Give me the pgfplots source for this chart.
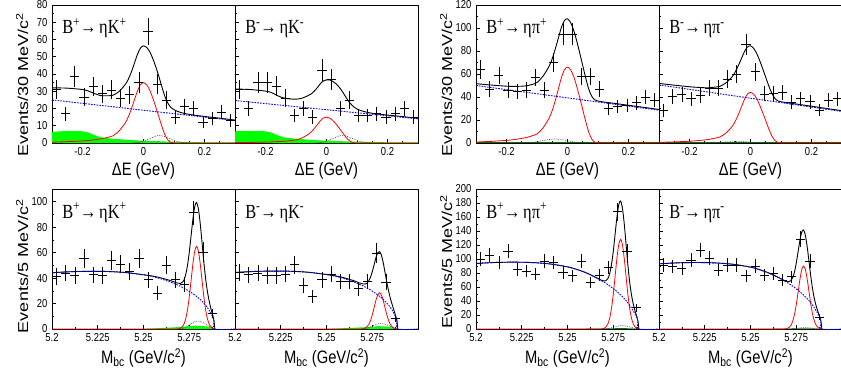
\documentclass[border=0pt]{standalone}
\usepackage{fontspec}
\setmainfont{Liberation Sans}
\newfontfamily\serifB{Liberation Serif}
\usepackage{graphicx}
\usepackage{pgfplots}
\usepackage{pgfplotstable}
\pgfplotsset{compat=1.18}
\newcommand{\sq}[1]{\scalebox{0.82}[1]{#1}}
\newcommand{\sqv}[1]{\scalebox{1}[0.8]{#1}}

% ---------------- Delta E panels: fit curves (x, total, signal)
\pgfplotstableread{
x tot sig
-0.3 32.0 0.46
-0.25 31.8 0.77
-0.2 31.0 1.2
-0.18 30.1 1.5
-0.16 28.6 1.9
-0.14 27.5 2.4
-0.12 27.4 3.15
-0.1 27.7 4.2
-0.08 29.9 7.0
-0.06 33.9 11.6
-0.05 36.9 15.1
-0.04 41.1 19.6
-0.03 46.1 24.9
-0.02 51.3 30.1
-0.01 55.0 33.8
0 56.3 35
0.01 55.5 33.8
0.02 53.1 30.8
0.03 49.2 26.3
0.04 44.3 21.0
0.05 38.8 15.4
0.06 32.8 9.8
0.07 27.1 4.9
0.08 23.1 1.75
0.09 20.6 0.35
0.1 19.3 0.07
0.12 17.8 0
0.15 16.6 0
0.2 15.4 0
0.25 14.4 0
0.3 13.3 0
}\fA
\pgfplotstableread{
x tot sig
-0.3 31.3 0.2
-0.25 31.0 0.33
-0.2 30.1 0.53
-0.18 29.2 0.65
-0.16 27.4 0.8
-0.14 26.1 1.0
-0.12 25.6 1.35
-0.1 25.4 1.8
-0.08 26.0 3.0
-0.06 27.5 5.0
-0.05 28.5 6.45
-0.04 30.1 8.4
-0.03 32.1 10.65
-0.02 34.4 12.9
-0.01 36.0 14.5
0 36.6 15
0.01 36.6 14.5
0.02 35.8 13.2
0.03 34.5 11.25
0.04 32.7 9.0
0.05 30.4 6.6
0.06 27.6 4.2
0.07 24.8 2.1
0.08 22.6 0.75
0.09 20.9 0.15
0.1 19.7 0.03
0.12 18.4 0
0.15 17.2 0
0.2 16.2 0
0.25 15.3 0
0.3 14.3 0
}\fB
\pgfplotstableread{
x tot sig
-0.3 51.6 0.86
-0.25 50.4 1.45
-0.2 49.4 2.3
-0.18 49.2 2.8
-0.16 49.3 3.6
-0.14 49.6 4.5
-0.12 50.6 5.9
-0.1 52.6 7.9
-0.08 58.2 13.2
-0.06 66.9 21.8
-0.05 73.4 28.4
-0.04 81.9 37.0
-0.03 91.2 46.9
-0.02 100.5 56.8
-0.01 106.5 63.7
0 108.0 66
0.01 104.8 63.7
0.02 98.3 58.1
0.03 89.0 49.5
0.04 78.4 39.6
0.05 67.3 29.0
0.06 56.3 18.5
0.07 46.6 9.2
0.08 40.4 3.3
0.09 37.4 0.66
0.1 36.5 0.13
0.12 35.6 0
0.15 34.6 0
0.2 32.8 0
0.25 31.0 0
0.3 29.2 0
}\fC
\pgfplotstableread{
x tot sig
-0.3 51.8 0.57
-0.25 50.3 0.97
-0.2 48.9 1.54
-0.18 48.5 1.9
-0.16 48.2 2.4
-0.14 48.0 3.0
-0.12 48.5 4.0
-0.1 49.3 5.3
-0.08 52.4 8.8
-0.06 57.7 14.5
-0.05 61.8 18.9
-0.04 67.2 24.6
-0.03 73.3 31.2
-0.02 79.4 37.8
-0.01 83.5 42.5
0 84.5 44
0.01 82.4 42.5
0.02 78.0 38.7
0.03 71.8 33.0
0.04 64.6 26.4
0.05 57.1 19.4
0.06 49.6 12.3
0.07 43.2 6.2
0.08 38.8 2.2
0.09 36.6 0.44
0.1 35.9 0.09
0.12 35.0 0
0.15 33.9 0
0.2 32.0 0
0.25 30.0 0
0.3 28.1 0
}\fD

% ---------------- Mbc panels: fit curves (x, total, signal)
\pgfplotstableread{
x tot sig
5.2 44.2 0
5.21 45.0 0
5.22 45.3 0
5.23 45.2 0
5.24 44.4 0
5.25 42.6 0
5.255 41.6 0
5.26 40.0 0
5.265 37.9 0
5.268 36.3 0.03
5.269 36.0 0.17
5.270 35.8 0.52
5.271 36.4 1.43
5.272 38.1 3.5
5.273 42.4 7.7
5.274 49.5 14.7
5.275 60.2 25.1
5.276 73.2 38.1
5.277 86.3 51.2
5.278 96.2 61.2
5.279 99.4 65
5.280 94.4 61.2
5.281 82.8 51.2
5.282 67.7 38.1
5.283 52.2 25.1
5.284 39.1 14.7
5.285 28.8 7.7
5.286 21.3 3.5
5.287 15.1 1.43
5.288 9.9 0.52
5.2885 6.6 0.3
5.289 0.2 0.17
}\fE
\pgfplotstableread{
x tot sig
5.2 44.4 0
5.21 45.2 0
5.22 45.5 0
5.23 45.4 0
5.24 44.6 0
5.25 42.8 0
5.255 41.7 0
5.26 40.1 0
5.265 37.9 0
5.268 36.2 0.01
5.269 35.9 0.07
5.270 35.4 0.23
5.271 35.3 0.63
5.272 35.8 1.54
5.273 37.6 3.36
5.274 40.5 6.44
5.275 45.0 11.0
5.276 50.4 16.7
5.277 55.9 22.5
5.278 59.9 26.8
5.279 60.8 28.5
5.280 58.0 26.8
5.281 52.1 22.5
5.282 44.4 16.7
5.283 36.5 11.0
5.284 29.5 6.44
5.285 23.5 3.36
5.286 18.7 1.54
5.287 14.0 0.63
5.288 9.4 0.23
5.2885 6.3 0.13
5.289 0.1 0.07
}\fF
\pgfplotstableread{
x tot sig
5.2 93.6 0
5.21 95.0 0
5.22 95.5 0
5.23 95.0 0
5.24 93.1 0
5.25 88.8 0
5.255 85.2 0
5.26 80.6 0
5.265 74.5 0
5.268 70.3 0.05
5.269 69.3 0.33
5.270 68.6 1.0
5.271 69.1 2.8
5.272 71.7 6.9
5.273 78.7 15.1
5.274 91.4 28.9
5.275 110.7 49.4
5.276 135.1 75.0
5.277 159.4 100.9
5.278 177.4 120.6
5.279 182.8 128
5.280 172.8 120.6
5.281 150.4 100.9
5.282 121.0 75.0
5.283 91.4 49.4
5.284 66.7 28.9
5.285 48.3 15.1
5.286 34.9 6.9
5.287 25.1 2.8
5.288 16.8 1.0
5.2885 11.3 0.6
5.289 0.3 0.33
}\fG
\pgfplotstableread{
x tot sig
5.2 93.1 0
5.21 94.5 0
5.22 95.0 0
5.23 94.5 0
5.24 92.6 0
5.25 88.4 0
5.255 84.8 0
5.26 80.1 0
5.265 74.1 0
5.268 69.9 0.03
5.269 68.7 0.23
5.270 67.8 0.72
5.271 67.7 2.0
5.272 69.0 4.9
5.273 73.1 10.6
5.274 81.2 20.3
5.275 94.1 34.7
5.276 110.3 52.7
5.277 126.6 70.9
5.278 138.4 84.8
5.279 141.5 90
5.280 133.6 84.8
5.281 117.0 70.9
5.282 95.8 52.7
5.283 74.2 34.7
5.284 56.0 20.3
5.285 42.1 10.6
5.286 31.8 4.9
5.287 23.6 2.0
5.288 16.2 0.72
5.2885 11.0 0.4
5.289 0.2 0.23
}\fH

% ---------------- data points (x, y, error)
\pgfplotstableread{
x y e
-0.285 31 5.6
-0.255 17 4.1
-0.225 38.5 6.2
-0.195 26.5 5.1
-0.165 32.7 5.7
-0.135 28.5 5.3
-0.105 30.8 5.5
-0.075 26 5.1
-0.045 28 5.3
-0.015 35 5.9
0.015 64.6 8.0
0.045 34 5.8
0.075 25 5.0
0.105 15 3.9
0.135 21 4.6
0.165 19.8 4.4
0.195 12 3.5
0.225 14 3.7
0.255 18 4.2
0.285 13 3.6
}\dA
\pgfplotstableread{
x y e
-0.285 31 5.6
-0.255 20 4.5
-0.225 35 5.9
-0.195 35 5.9
-0.165 33 5.7
-0.135 26 5.1
-0.105 16 4.0
-0.075 20 4.5
-0.045 15 3.9
-0.015 42 6.5
0.015 37 6.1
0.045 20 4.5
0.075 25 5.0
0.105 16 4.0
0.135 16 4.0
0.165 17 4.1
0.195 15 3.9
0.225 17 4.1
0.255 20 4.5
0.285 15 3.9
}\dB
\pgfplotstableread{
x y e
-0.285 64 8.0
-0.255 47 6.9
-0.225 58.5 7.6
-0.195 46 6.8
-0.165 45 6.7
-0.135 46 6.8
-0.105 57 7.5
-0.075 46 6.8
-0.045 70 8.4
-0.015 94.6 9.7
0.015 94.6 9.7
0.045 57.7 7.6
0.075 57.7 7.6
0.105 47 6.9
0.135 29.7 5.4
0.165 31.7 5.6
0.195 32.6 5.7
0.225 35 5.9
0.255 40 6.3
0.285 37.5 6.1
}\dC
\pgfplotstableread{
x y e
-0.285 28.3 5.3
-0.255 40.7 6.4
-0.225 42 6.5
-0.195 38.4 6.2
-0.165 41.2 6.4
-0.135 47.9 6.9
-0.105 47.9 6.9
-0.075 55.7 7.5
-0.045 60 7.7
-0.015 85.4 9.2
0.015 62 7.9
0.045 42.7 6.5
0.075 43.3 6.6
0.105 43.6 6.6
0.135 35.5 6.0
0.165 38.4 6.2
0.195 36 6.0
0.225 28.8 5.4
0.255 37.5 6.1
0.285 38.4 6.2
}\dD
\pgfplotstableread{
x y e
5.2025 41.3 6.4
5.2075 44 6.6
5.2125 42 6.5
5.2175 55.3 7.4
5.2225 42.6 6.5
5.2275 42 6.5
5.2325 53.7 7.3
5.2375 51 7.1
5.2425 45.3 6.7
5.2475 55.3 7.4
5.2525 38.7 6.2
5.2575 28.2 5.3
5.2625 50 7.1
5.2675 38.7 6.2
5.2725 35.3 5.9
5.2775 91.3 9.6
5.2825 60.5 7.8
5.2875 12.4 3.5
}\dE
\pgfplotstableread{
x y e
5.2025 44.7 6.7
5.2075 42.6 6.5
5.2125 44 6.6
5.2175 42.1 6.5
5.2225 42.1 6.5
5.2275 43.2 6.6
5.2325 50.5 7.1
5.2375 34.2 5.8
5.2425 25.5 5.0
5.2475 38.7 6.2
5.2525 43.2 6.6
5.2575 37.4 6.1
5.2625 37.4 6.1
5.2675 31.6 5.6
5.2725 37.4 6.1
5.2775 59.7 7.7
5.2825 36.8 6.1
5.2875 8.4 2.9
}\dF
\pgfplotstableread{
x y e
5.2025 100 10
5.2075 105.7 10.3
5.2125 95.2 9.8
5.2175 111.4 10.6
5.2225 85.7 9.3
5.2275 82.9 9.1
5.2325 78.1 8.8
5.2375 97.1 9.9
5.2425 95.2 9.8
5.2475 81 9.0
5.2525 76.2 8.7
5.2575 97.1 9.9
5.2625 66.7 8.2
5.2675 77.1 8.8
5.2725 87.6 9.4
5.2775 167.6 12.9
5.2825 110.5 10.5
5.2875 30.5 5.5
}\dG
\pgfplotstableread{
x y e
5.2025 91.4 9.6
5.2075 89 9.4
5.2125 86.7 9.3
5.2175 98.6 9.9
5.2225 112.9 10.6
5.2275 101 10
5.2325 84.3 9.2
5.2375 91.4 9.6
5.2425 91.4 9.6
5.2475 76.2 8.7
5.2525 90 9.5
5.2575 77.1 8.8
5.2625 79.5 8.9
5.2675 70 8.4
5.2725 74.8 8.6
5.2775 128.6 11.3
5.2825 97.1 9.9
5.2875 16.7 4.1
}\dH

\pgfplotsset{
  panel/.style={scale only axis, width=183pt, height=140pt,
    axis line style={line width=0.9pt}, tick align=inside,
    xtick pos=left, ytick pos=left,
    major tick length=4pt, minor tick length=2pt,
    every tick/.style={black, line width=0.6pt},
    tick label style={font=\fontsize{11.5}{13}\selectfont},
    xticklabel style={yshift=-1pt},
    yticklabel style={xshift=-1pt},
    label style={font=\fontsize{18}{20}\selectfont}},
  toprow/.style={height=138pt},
  dE/.style={panel, toprow, xmin=-0.3, xmax=0.3, xtick={-0.2,0,0.2},
    xticklabels={\sq{-0.2},\sq{0},\sq{0.2}},
    minor xtick={-0.25,-0.15,-0.1,-0.05,0.05,0.1,0.15,0.25},
    xlabel={\sq{ΔE (GeV)}}},
  mbc/.style={panel, xmin=5.2, xmax=5.3, xtick={5.2,5.225,5.25,5.275},
    xticklabels={\sq{5.2},\sq{5.225},\sq{5.25},\sq{5.275}},
    minor xtick={5.2125,5.2375,5.2625,5.2875},
    xlabel={\sq{M\textsubscript{bc} (GeV/c\textsuperscript{2})}}},
  ylab/.style={ylabel style={at={(axis description cs:-0.128,#1)}, anchor=south west, inner sep=0pt}},
  dat/.style={draw=none, mark=none, forget plot,
    error bars/.cd, x dir=both, x fixed=#1, y dir=both, y explicit,
    error mark=none, error bar style={draw=black, line width=0.75pt, solid}},
  tot/.style={black, line width=0.9pt, smooth, mark=none},
  sig/.style={red, line width=0.8pt, smooth, mark=none},
  bkg/.style={blue, line width=0.9pt, dash pattern=on 1.6pt off 1.2pt, mark=none},
  dott/.style={black!75, line width=0.6pt, dash pattern=on 0.8pt off 1pt, smooth, mark=none},
}
\newcommand{\plab}[1]{\node[anchor=base west, inner sep=0pt, font=\serifB\fontsize{20}{22}\selectfont] at (rel axis cs:0.055,0.79) {\sq{#1}};}

\begin{document}
\begin{tikzpicture}
% ===== top row =====
\begin{axis}[dE, at={(52pt,-143pt)}, anchor=south west,
  ymin=0, ymax=80, ytick={0,10,...,80}, minor ytick={5,15,...,75},
  yticklabels={\sq{0},\sq{10},\sq{20},\sq{30},\sq{40},\sq{50},\sq{60},\sq{70},\sq{80}},
  ylabel={\sqv{Events/30 MeV/c\textsuperscript{2}}}, ylab=-0.1]
\addplot[fill=green, draw=none] coordinates {(-0.3,6.5) (-0.25,7.0) (-0.2,6.8) (-0.18,6.0) (-0.16,4.5) (-0.14,3.3) (-0.12,2.8) (-0.1,2.5) (-0.05,1.8) (0,1.3) (0.05,1.0) (0.1,0.7) (0.2,0.4) (0.3,0.3)} \closedcycle;
\addplot[sig] table[x=x,y=sig]{\fA};
\addplot[dott] coordinates {(-0.04,0) (-0.02,0.3) (0,1.0) (0.02,2.5) (0.04,4.0) (0.05,4.4) (0.06,4.2) (0.08,3.0) (0.1,1.5) (0.12,0.5) (0.15,0)};
\addplot[tot] table[x=x,y=tot]{\fA};
\addplot[bkg] coordinates {(-0.3,25) (0.3,13)};
\addplot[dat=0.015] table[x=x,y=y,y error=e]{\dA};
\plab{B\textsuperscript{+}→\,ηK\textsuperscript{+}}
\end{axis}

\begin{axis}[dE, at={(235pt,-143pt)}, anchor=south west,
  ymin=0, ymax=80, ytick={0,10,...,80}, minor ytick={5,15,...,75}, yticklabels={}]
\addplot[fill=green, draw=none] coordinates {(-0.3,6.8) (-0.25,7.0) (-0.2,6.8) (-0.18,6.0) (-0.16,4.5) (-0.14,3.3) (-0.12,2.8) (-0.1,2.5) (-0.05,1.8) (0,1.3) (0.05,1.0) (0.1,0.7) (0.2,0.4) (0.3,0.3)} \closedcycle;
\addplot[sig] table[x=x,y=sig]{\fB};
\addplot[dott] coordinates {(-0.04,0) (-0.02,0.3) (0,1.0) (0.02,2.5) (0.04,4.0) (0.05,4.4) (0.06,4.2) (0.08,3.0) (0.1,1.5) (0.12,0.5) (0.15,0)};
\addplot[tot] table[x=x,y=tot]{\fB};
\addplot[bkg] coordinates {(-0.3,24.6) (0.3,14.0)};
\addplot[dat=0.015] table[x=x,y=y,y error=e]{\dB};
\plab{B\textsuperscript{-}→\,ηK\textsuperscript{-}}
\end{axis}

\begin{axis}[dE, at={(476pt,-143pt)}, anchor=south west,
  ymin=0, ymax=120, ytick={0,20,...,120}, minor ytick={10,30,...,110},
  yticklabels={\sq{0},\sq{20},\sq{40},\sq{60},\sq{80},\sq{100},\sq{120}},
  ylabel={\sqv{Events/30 MeV/c\textsuperscript{2}}}, ylab=-0.1]
\addplot[fill=green!45!black, draw=none] coordinates {(-0.3,0.8) (0.3,0.8)} \closedcycle;
\addplot[sig] table[x=x,y=sig]{\fC};
\addplot[dott] coordinates {(-0.16,0) (-0.12,0.5) (-0.1,1.2) (-0.08,2.2) (-0.06,3) (-0.04,3.5) (-0.02,3) (0,2) (0.02,1) (0.04,0.3) (0.06,0)};
\addplot[tot] table[x=x,y=tot]{\fC};
\addplot[bkg] coordinates {(-0.3,50) (0.3,28.5)};
\addplot[dat=0.015] table[x=x,y=y,y error=e]{\dC};
\plab{B\textsuperscript{+}→\,ηπ\textsuperscript{+}}
\end{axis}

\begin{axis}[dE, at={(659pt,-143pt)}, anchor=south west,
  ymin=0, ymax=120, ytick={0,20,...,120}, minor ytick={10,30,...,110}, yticklabels={}]
\addplot[fill=green!45!black, draw=none] coordinates {(-0.3,0.8) (0.3,0.8)} \closedcycle;
\addplot[sig] table[x=x,y=sig]{\fD};
\addplot[dott] coordinates {(-0.16,0) (-0.12,0.2) (-0.1,0.5) (-0.08,0.9) (-0.06,1.2) (-0.04,1.4) (-0.02,1.2) (0,0.8) (0.02,0.4) (0.04,0.1) (0.06,0)};
\addplot[tot] table[x=x,y=tot]{\fD};
\addplot[bkg] coordinates {(-0.3,50.5) (0.3,27.4)};
\addplot[dat=0.015] table[x=x,y=y,y error=e]{\dD};
\plab{B\textsuperscript{-}→\,ηπ\textsuperscript{-}}
\end{axis}

% ===== bottom row =====
\begin{axis}[mbc, at={(52pt,-329pt)}, anchor=south west,
  ymin=0, ymax=110, ytick={0,20,...,100}, minor ytick={10,30,...,110},
  yticklabels={\sq{0},\sq{20},\sq{40},\sq{60},\sq{80},\sq{100}},
  ylabel={\sqv{Events/5 MeV/c\textsuperscript{2}}}, ylab=-0.03]
\addplot[fill=green, draw=none] coordinates {(5.25,0) (5.255,0.39) (5.26,0.78) (5.265,1.17) (5.27,1.56) (5.274,2.08) (5.278,2.6) (5.282,2.47) (5.285,1.82) (5.287,1.04) (5.289,0)} \closedcycle;
\addplot[sig] table[x=x,y=sig]{\fE};
\addplot[dott] coordinates {(5.27,0) (5.272,0.63) (5.274,2.2) (5.276,4.1) (5.278,5.7) (5.279,6.2) (5.28,6.2) (5.282,5.4) (5.284,3.8) (5.286,1.9) (5.288,0.3) (5.289,0)};
\addplot[tot] table[x=x,y=tot]{\fE};
\addplot[bkg, smooth] coordinates {(5.2,44.2) (5.21,45.0) (5.22,45.3) (5.23,45.2) (5.24,44.4) (5.25,42.6) (5.255,41.2) (5.26,39.2) (5.265,36.7) (5.268,34.9) (5.27,33.7) (5.272,32.2) (5.274,30.5) (5.276,28.7) (5.278,26.7) (5.28,24.5) (5.282,21.7) (5.284,18.6) (5.286,14.5) (5.287,11.8) (5.288,8.6) (5.2885,5.9) (5.289,0) (5.3,0)};
\addplot[dat=0.0025] table[x=x,y=y,y error=e]{\dE};
\plab{B\textsuperscript{+}→\,ηK\textsuperscript{+}}
\end{axis}

\begin{axis}[mbc, at={(235pt,-329pt)}, anchor=south west,
  ymin=0, ymax=110, ytick={0,20,...,100}, minor ytick={10,30,...,110}, yticklabels={}]
\addplot[fill=green, draw=none] coordinates {(5.25,0) (5.255,0.33) (5.26,0.66) (5.265,0.99) (5.27,1.32) (5.274,1.76) (5.278,2.2) (5.282,2.09) (5.285,1.54) (5.287,0.88) (5.289,0)} \closedcycle;
\addplot[sig] table[x=x,y=sig]{\fF};
\addplot[dott] coordinates {(5.27,0) (5.272,0.45) (5.274,1.6) (5.276,2.9) (5.278,4.05) (5.279,4.4) (5.28,4.4) (5.282,3.8) (5.284,2.7) (5.286,1.35) (5.288,0.2) (5.289,0)};
\addplot[tot] table[x=x,y=tot]{\fF};
\addplot[bkg, smooth] coordinates {(5.2,44.4) (5.21,45.2) (5.22,45.5) (5.23,45.4) (5.24,44.6) (5.25,42.8) (5.255,41.4) (5.26,39.4) (5.265,36.9) (5.268,35.0) (5.27,33.9) (5.272,32.3) (5.274,30.7) (5.276,28.8) (5.278,26.8) (5.28,24.6) (5.282,21.8) (5.284,18.7) (5.286,14.6) (5.287,11.8) (5.288,8.6) (5.2885,5.9) (5.289,0) (5.3,0)};
\addplot[dat=0.0025] table[x=x,y=y,y error=e]{\dF};
\plab{B\textsuperscript{-}→\,ηK\textsuperscript{-}}
\end{axis}

\begin{axis}[mbc, at={(476pt,-329pt)}, anchor=south west,
  ymin=0, ymax=200, ytick={0,20,...,200}, minor ytick={10,30,...,190},
  yticklabels={\sq{0},\sq{20},\sq{40},\sq{60},\sq{80},\sq{100},\sq{120},\sq{140},\sq{160},\sq{180},\sq{200}},
  ylabel={\sqv{Events/5 MeV/c\textsuperscript{2}}}, ylab=0.0]
\addplot[fill=green!45!black, draw=none] coordinates {(5.25,0) (5.255,0.18) (5.26,0.36) (5.265,0.54) (5.27,0.72) (5.274,0.96) (5.278,1.2) (5.282,1.14) (5.285,0.84) (5.287,0.48) (5.289,0)} \closedcycle;
\addplot[sig] table[x=x,y=sig]{\fG};
\addplot[dott] coordinates {(5.27,0) (5.272,0.5) (5.274,1.75) (5.276,3.25) (5.278,4.5) (5.279,4.9) (5.28,4.9) (5.282,4.25) (5.284,3.0) (5.286,1.5) (5.288,0.25) (5.289,0)};
\addplot[tot] table[x=x,y=tot]{\fG};
\addplot[bkg, smooth] coordinates {(5.2,93.6) (5.21,95.0) (5.22,95.5) (5.23,95.0) (5.24,93.1) (5.25,88.8) (5.255,85.0) (5.26,80.2) (5.265,74.0) (5.268,69.7) (5.27,66.9) (5.272,63.5) (5.274,59.7) (5.276,55.7) (5.278,51.1) (5.28,46.1) (5.282,40.6) (5.284,33.9) (5.286,25.8) (5.287,21.0) (5.288,15.3) (5.2885,10.5) (5.289,0) (5.3,0)};
\addplot[dat=0.0025] table[x=x,y=y,y error=e]{\dG};
\plab{B\textsuperscript{+}→\,ηπ\textsuperscript{+}}
\end{axis}

\begin{axis}[mbc, at={(659pt,-329pt)}, anchor=south west,
  ymin=0, ymax=200, ytick={0,20,...,200}, minor ytick={10,30,...,190}, yticklabels={}]
\addplot[fill=green!45!black, draw=none] coordinates {(5.25,0) (5.255,0.15) (5.26,0.3) (5.265,0.45) (5.27,0.6) (5.274,0.8) (5.278,1.0) (5.282,0.95) (5.285,0.7) (5.287,0.4) (5.289,0)} \closedcycle;
\addplot[sig] table[x=x,y=sig]{\fH};
\addplot[dott] coordinates {(5.27,0) (5.272,0.2) (5.274,0.7) (5.276,1.3) (5.278,1.8) (5.279,1.96) (5.28,1.96) (5.282,1.7) (5.284,1.2) (5.286,0.6) (5.288,0.1) (5.289,0)};
\addplot[tot] table[x=x,y=tot]{\fH};
\addplot[bkg, smooth] coordinates {(5.2,93.1) (5.21,94.5) (5.22,95.0) (5.23,94.5) (5.24,92.6) (5.25,88.4) (5.255,84.6) (5.26,79.8) (5.265,73.6) (5.268,69.4) (5.27,66.5) (5.272,63.2) (5.274,59.4) (5.276,55.4) (5.278,50.8) (5.28,45.9) (5.282,40.4) (5.284,33.7) (5.286,25.7) (5.287,20.9) (5.288,15.2) (5.2885,10.5) (5.289,0) (5.3,0)};
\addplot[dat=0.0025] table[x=x,y=y,y error=e]{\dH};
\plab{B\textsuperscript{-}→\,ηπ\textsuperscript{-}}
\end{axis}

\pgfresetboundingbox
\path[use as bounding box] (0,0) rectangle (841pt,-381pt);
\end{tikzpicture}
\end{document}
